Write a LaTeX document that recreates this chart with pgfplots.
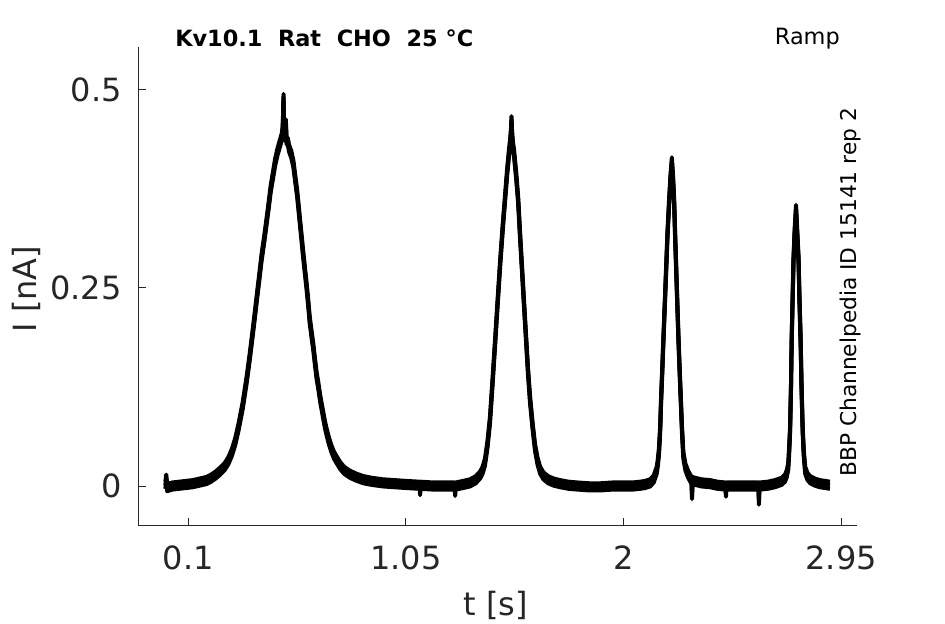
\documentclass[border=0pt]{standalone}
\usepackage{pgfplots}
\usepackage{pgfplotstable}
\pgfplotsset{compat=1.18}
\usepackage{fontspec}
\setmainfont{DejaVu Sans}
\definecolor{c26}{HTML}{262626}
\pgfplotstableread{
t I
0.000 0.001
0.004 0.010
0.008 -0.002
0.030 0.000
0.060 0.001
0.090 0.002
0.120 0.003
0.150 0.005
0.180 0.007
0.200 0.010
0.220 0.014
0.240 0.019
0.260 0.025
0.275 0.032
0.290 0.042
0.305 0.056
0.320 0.075
0.338 0.102
0.355 0.134
0.368 0.162
0.380 0.190
0.390 0.214
0.400 0.239
0.410 0.263
0.420 0.288
0.432 0.312
0.443 0.336
0.452 0.356
0.460 0.375
0.470 0.392
0.479 0.408
0.490 0.422
0.500 0.432
0.508 0.440
0.512 0.448
0.514 0.466
0.516 0.490
0.518 0.450
0.522 0.440
0.526 0.458
0.529 0.436
0.535 0.434
0.540 0.426
0.550 0.418
0.559 0.406
0.566 0.390
0.575 0.370
0.582 0.350
0.588 0.332
0.595 0.312
0.600 0.297
0.608 0.275
0.617 0.251
0.624 0.230
0.630 0.210
0.638 0.192
0.646 0.175
0.653 0.157
0.660 0.140
0.668 0.126
0.675 0.112
0.683 0.099
0.690 0.088
0.697 0.077
0.705 0.067
0.715 0.056
0.725 0.047
0.736 0.039
0.748 0.033
0.763 0.026
0.780 0.020
0.805 0.015
0.835 0.011
0.865 0.008
0.900 0.006
0.950 0.004
1.000 0.003
1.050 0.002
1.110 0.001
1.112 -0.007
1.114 0.001
1.170 0.000
1.230 0.000
1.263 0.000
1.265 -0.008
1.267 0.000
1.300 0.002
1.330 0.004
1.355 0.008
1.374 0.014
1.385 0.020
1.395 0.030
1.406 0.052
1.417 0.083
1.428 0.130
1.440 0.184
1.451 0.234
1.462 0.283
1.473 0.327
1.484 0.367
1.492 0.396
1.500 0.420
1.506 0.436
1.509 0.448
1.511 0.462
1.513 0.446
1.517 0.430
1.522 0.420
1.531 0.393
1.540 0.361
1.548 0.318
1.557 0.273
1.566 0.228
1.575 0.184
1.583 0.145
1.592 0.109
1.603 0.076
1.614 0.048
1.625 0.031
1.636 0.020
1.650 0.013
1.671 0.008
1.695 0.005
1.723 0.003
1.760 0.001
1.800 0.000
1.850 -0.001
1.900 -0.001
1.950 0.000
2.000 0.000
2.040 0.000
2.072 0.001
2.095 0.002
2.116 0.004
2.132 0.009
2.145 0.020
2.150 0.030
2.155 0.045
2.160 0.072
2.164 0.109
2.169 0.145
2.174 0.184
2.180 0.228
2.186 0.273
2.192 0.318
2.199 0.358
2.205 0.388
2.211 0.410
2.216 0.388
2.221 0.358
2.225 0.318
2.230 0.273
2.235 0.228
2.240 0.184
2.245 0.145
2.250 0.109
2.255 0.072
2.261 0.039
2.270 0.024
2.282 0.015
2.297 0.007
2.299 -0.012
2.301 0.007
2.312 0.006
2.340 0.004
2.378 0.003
2.410 0.001
2.445 0.000
2.447 -0.009
2.449 0.000
2.500 0.000
2.550 0.000
2.589 0.000
2.591 -0.019
2.593 0.000
2.630 0.001
2.661 0.003
2.690 0.006
2.705 0.010
2.713 0.016
2.719 0.025
2.723 0.045
2.727 0.071
2.731 0.125
2.734 0.184
2.738 0.235
2.742 0.285
2.747 0.320
2.753 0.350
2.758 0.320
2.764 0.285
2.768 0.235
2.773 0.184
2.777 0.125
2.782 0.071
2.787 0.040
2.793 0.020
2.803 0.012
2.815 0.008
2.835 0.005
2.857 0.003
2.880 0.002
2.901 0.001
}\trace
\begin{document}
\begin{tikzpicture}
\useasboundingbox (0,0) rectangle (708.75pt,468pt);
\begin{axis}[
  at={(103.725pt,73.725pt)}, anchor=south west,
  scale only axis, width=539pt, height=359.2pt,
  xmin=-0.118, xmax=3.019, ymin=-0.050, ymax=0.554,
  axis x line*=bottom, axis y line*=left,
  xtick={0.1,1.05,2,2.95}, xticklabels={0.1,1.05,2,2.95},
  ytick={0,0.25,0.5}, yticklabels={0,0.25,0.5},
  tick align=inside, major tick length=6pt,
  tick style={color=c26, line width=0.75pt},
  axis line style={color=c26, line width=0.75pt},
  xticklabel style={font=\fontsize{24}{28}\selectfont, text=c26, yshift=-11.5pt},
  yticklabel style={font=\fontsize{24}{28}\selectfont, text=c26, xshift=-9pt},
  clip=false,
]
\addplot[black, line width=3pt, line join=round] table[x=t, y expr=\thisrow{I}+0.0045] {\trace};
\addplot[black, line width=3pt, line join=round] table[x=t, y expr=\thisrow{I}-0.0045] {\trace};
\addplot[black, line width=3pt, line join=round] table[x=t, y=I] {\trace};
\end{axis}
\node[inner sep=0pt, anchor=base west, font=\bfseries\fontsize{16.8}{20}\selectfont] at (175*0.75pt, 577*0.75pt) {Kv10.1\ \ Rat\ \ CHO\ \ 25 °C};
\node[inner sep=0pt, anchor=base east, font=\fontsize{16.8}{20}\selectfont] at (840*0.75pt, 579*0.75pt) {Ramp};
\node[inner sep=0pt, anchor=base west, rotate=90, font=\fontsize{16.3}{19}\selectfont] at (856*0.75pt, 147*0.75pt) {BBP Channelpedia ID 15141 rep 2};
\node[inner sep=0pt, anchor=base, font=\fontsize{24}{28}\selectfont, text=c26] at (496*0.75pt, 8*0.75pt) {t [s]};
\node[inner sep=0pt, anchor=base, rotate=90, font=\fontsize{24}{28}\selectfont, text=c26] at (36*0.75pt, 335*0.75pt) {I [nA]};
\end{tikzpicture}
\end{document}
